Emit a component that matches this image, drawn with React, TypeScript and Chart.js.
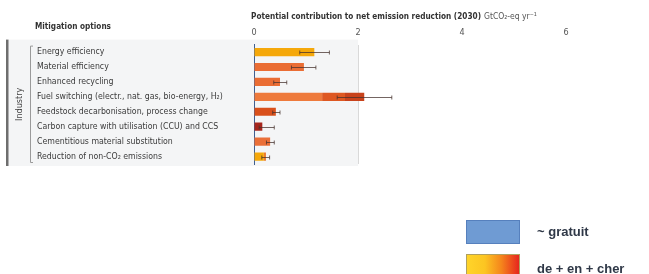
import React, { useEffect, useRef } from "react";
import { Chart, registerables } from "chart.js";

Chart.register(...registerables);

const categories = [
  "Energy efficiency",
  "Material efficiency",
  "Enhanced recycling",
  "Fuel switching (electr., nat. gas, bio-energy, H\u2082)",
  "Feedstock decarbonisation, process change",
  "Carbon capture with utilisation (CCU) and CCS",
  "Cementitious material substitution",
  "Reduction of non-CO\u2082 emissions",
];
const seg1 = [1.16, 0.96, 0.5, 1.31, 0.42, 0.16, 0.31, 0.19];
const seg1Colors = ["#f5a80a", "#ea6d34", "#ea6d34", "#ee7a3c", "#d9501b", "#a6261d", "#ea6f38", "#f5a80a"];
const seg2 = [0, 0, 0, 0.44, 0, 0, 0, 0.04];
const seg2Colors = ["#000", "#000", "#000", "#de5822", "#000", "#000", "#000", "#ec7b2e"];
const seg3 = [0, 0, 0, 0.37, 0, 0, 0, 0];
const seg3Colors = ["#000", "#000", "#000", "#c8421b", "#000", "#000", "#000", "#000"];
const errLow = [0.88, 0.72, 0.38, 1.6, 0.36, 0.1, 0.24, 0.15];
const errHigh = [1.45, 1.19, 0.63, 2.65, 0.5, 0.39, 0.39, 0.3];
const xTicks = [0, 2, 4, 6];
const sectorLabel = "Industry";
const leftTitle = "Mitigation options";
const axisTitleBold = "Potential contribution to net emission reduction (2030)";
const axisTitleUnit = "GtCO\u2082-eq yr\u207B\u00B9";
const legendLabels = ["~ gratuit", "de + en + cher"];

const FONT = "'Liberation Sans Narrow', 'DejaVu Sans Condensed', Roboto, sans-serif";

export default function App() {
  const ref = useRef<HTMLCanvasElement | null>(null);
  useEffect(() => {
    const canvas = ref.current!;
    const decor = {
      id: "decor",
      beforeDraw(chart: any) {
        const ctx = chart.ctx;
        const xs = chart.scales.x;
        const ca = chart.chartArea;
        ctx.save();
        ctx.fillStyle = "#f4f5f6";
        ctx.fillRect(8, ca.top - 5, xs.getPixelForValue(2) - 8, ca.bottom - ca.top + 7);
        ctx.fillStyle = "#6e6e6e";
        ctx.fillRect(6, ca.top - 5, 2.5, ca.bottom - ca.top + 7);
        ctx.restore();
      },
      afterDraw(chart: any) {
        const ctx = chart.ctx;
        const xs = chart.scales.x;
        const ys = chart.scales.y;
        const ca = chart.chartArea;
        ctx.save();
        for (let i = 0; i < categories.length; i++) {
          const y = Math.round(ys.getPixelForValue(i)) + 0.5;
          const x1 = xs.getPixelForValue(errLow[i]);
          const x2 = xs.getPixelForValue(errHigh[i]);
          ctx.strokeStyle = "rgba(70,50,45,0.75)";
          ctx.lineWidth = 1;
          ctx.beginPath();
          ctx.moveTo(x1, y);
          ctx.lineTo(x2, y);
          ctx.moveTo(x1, y - 2);
          ctx.lineTo(x1, y + 2);
          ctx.moveTo(x2, y - 2);
          ctx.lineTo(x2, y + 2);
          ctx.stroke();
        }
        ctx.strokeStyle = "#9a9a9a";
        ctx.lineWidth = 1;
        ctx.beginPath();
        ctx.moveTo(33, ca.top + 1.5);
        ctx.lineTo(30.5, ca.top + 1.5);
        ctx.lineTo(30.5, ca.bottom - 1.5);
        ctx.lineTo(33, ca.bottom - 1.5);
        ctx.stroke();
        ctx.fillStyle = "#444";
        ctx.font = `9px ${FONT}`;
        ctx.textAlign = "center";
        ctx.textBaseline = "middle";
        ctx.save();
        ctx.translate(20, (ca.top + ca.bottom) / 2);
        ctx.rotate(-Math.PI / 2);
        ctx.fillText(sectorLabel, 0, 0);
        ctx.restore();
        ctx.textAlign = "left";
        ctx.fillStyle = "#333";
        ctx.font = `bold 9px ${FONT}`;
        ctx.fillText(leftTitle, 35, 27, 76);
        ctx.fillText(axisTitleBold, 251, 17, 230);
        ctx.font = `8.5px ${FONT}`;
        ctx.fillStyle = "#555";
        ctx.fillText(axisTitleUnit, 484, 17, 55);
        ctx.fillStyle = "#6f9bd3";
        ctx.fillRect(466, 220, 54, 24);
        ctx.strokeStyle = "#5680bd";
        ctx.strokeRect(466.5, 220.5, 53, 23);
        const g = ctx.createLinearGradient(466, 0, 520, 0);
        g.addColorStop(0, "#ffd52a");
        g.addColorStop(0.35, "#fcc522");
        g.addColorStop(0.65, "#f5861c");
        g.addColorStop(1, "#e6201e");
        ctx.fillStyle = g;
        ctx.fillRect(466, 254, 54, 30);
        ctx.strokeStyle = "#b0a060";
        ctx.strokeRect(466.5, 254.5, 53, 30);
        ctx.fillStyle = "#2f3847";
        ctx.font = "bold 13px 'Liberation Sans', sans-serif";
        ctx.fillText(legendLabels[0], 537, 232);
        ctx.fillText(legendLabels[1], 537, 269);
        ctx.restore();
      },
    };
    const chart = new Chart(canvas, {
      type: "bar",
      data: {
        labels: categories,
        datasets: [
          { data: seg1, backgroundColor: seg1Colors },
          { data: seg2, backgroundColor: seg2Colors },
          { data: seg3, backgroundColor: seg3Colors },
        ],
      },
      options: {
        indexAxis: "y",
        animation: false,
        responsive: false,
        events: [],
        datasets: { bar: { categoryPercentage: 1, barPercentage: 0.55 } },
        layout: { padding: { left: 37, right: 83, top: 0, bottom: 110 } },
        plugins: { legend: { display: false }, tooltip: { enabled: false } },
        scales: {
          x: {
            position: "top",
            stacked: true,
            min: 0,
            max: 6,
            afterBuildTicks: (s: any) => {
              s.ticks = xTicks.map((v) => ({ value: v }));
            },
            afterFit: (s: any) => {
              s.height = 44.6;
            },
            ticks: {
              padding: 7,
              color: "#555",
              font: { family: FONT, size: 9 },
            },
            grid: {
              drawTicks: false,
              color: (c: any) => (c.tick && c.tick.value === 2 ? "#d9d9d9" : "rgba(0,0,0,0)"),
            },
            border: { display: false },
          },
          y: {
            stacked: true,
            afterFit: (s: any) => {
              s.width = 217;
            },
            ticks: {
              crossAlign: "far",
              color: "#3a3a3a",
              font: { family: FONT, size: 8.7 },
              autoSkip: false,
            },
            grid: { display: false },
            border: { display: true, color: "#3f5f90", width: 1 },
          },
        },
      },
      plugins: [decor],
    } as any);
    return () => chart.destroy();
  }, []);
  return (
    <div style={{ position: "absolute", left: 0, top: 0, width: 649, height: 274, background: "#fff" }}>
      <canvas ref={ref} width={649} height={274} style={{ display: "block" }} />
    </div>
  );
}
